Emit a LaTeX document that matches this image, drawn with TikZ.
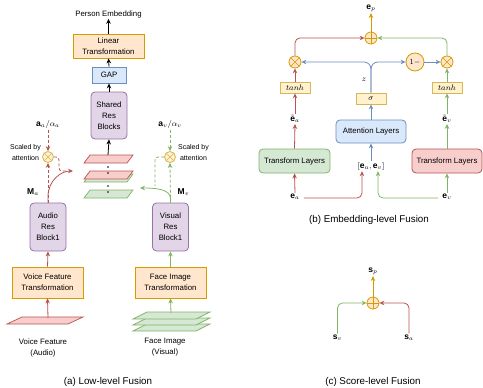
\documentclass[tikz,border=0pt]{standalone}
\usepackage{fontspec}
\setmainfont{Liberation Sans}
\usetikzlibrary{arrows.meta}

\definecolor{orF}{HTML}{FFE6CC}\definecolor{orD}{HTML}{D79B00}
\definecolor{bluF}{HTML}{DAE8FC}\definecolor{bluD}{HTML}{6C8EBF}
\definecolor{purF}{HTML}{E1D5E7}\definecolor{purD}{HTML}{9673A6}
\definecolor{grnF}{HTML}{D5E8D4}\definecolor{grnD}{HTML}{82B366}
\definecolor{redF}{HTML}{F8CECC}\definecolor{redD}{HTML}{B85450}
\definecolor{ylwF}{HTML}{FFF2CC}\definecolor{ylwD}{HTML}{D6B656}

% a flat feature map drawn as a parallelogram: x, y (bottom-left), width, height, skew, style
\newcommand\featplane[6]{\draw[#6] (#1,#2) -- ++(#3,0) -- ++(#5,-#4) -- ++(-#3,0) -- cycle;}

\tikzset{
  txt/.style={font=\fontsize{7.8}{11}\selectfont},
  box/.style={draw, line width=0.8pt, align=center, inner sep=0pt, txt},
  rbox/.style={box, rounded corners=4pt},
  orbox/.style={box, fill=orF, draw=orD},
  blubox/.style={fill=bluF, draw=bluD},
  purbox/.style={rbox, fill=purF, draw=purD},
  ylwbox/.style={box, fill=ylwF, draw=ylwD},
  lbl/.style={inner sep=1pt, txt},
  mlbl/.style={inner sep=1pt, font=\fontsize{8.5}{10}\selectfont},
  captext/.style={inner sep=0pt, font=\fontsize{9.8}{12}\selectfont},
  arr/.style={-{Stealth[length=5pt,width=4.5pt]}, line width=0.8pt},
  dsh/.style={dash pattern=on 3pt off 2pt},
  opcirc/.style={circle, draw, line width=0.8pt, inner sep=0pt, minimum size=12pt},
}

\begin{document}
\begin{tikzpicture}[x=1pt, y=-1pt]
\useasboundingbox (0,0) rectangle (483,388);

% ---------------- (a) low-level fusion ----------------
\node[lbl] (pe) at (108.5,14) {Person Embedding};
\node[orbox, minimum width=71pt, minimum height=24pt] (lin) at (108.5,46) {Linear\\Transformation};
\node[box, blubox, minimum width=34pt, minimum height=16pt] (gap) at (109,75) {GAP};
\node[purbox, minimum width=36pt, minimum height=47pt] (srb) at (109,115.5) {Shared\\Res\\Blocks};

% stacked feature maps
\featplane{84}{163}{43}{8}{6}{fill=redF, draw=redD, line width=0.7pt}
\featplane{84}{182}{43}{8}{6}{fill=grnF, draw=grnD, line width=0.7pt}
\featplane{84}{179}{43}{8}{6}{fill=redF, draw=redD, line width=0.7pt}
\featplane{84}{198}{43}{8}{6}{fill=grnF, draw=grnD, line width=0.7pt}
\foreach \yy in {167,173,186,192} \fill (108,\yy) circle (0.9pt);
\coordinate (stk) at (108,155);
\coordinate (stka) at (73,171);
\coordinate (stkv) at (140,188);

\draw[arr] (stk) -- (srb.south);
\draw[arr] (srb.north) -- (gap.south);
\draw[arr] (gap.north) -- (lin.south);
\draw[arr] (lin.north) -- (pe.south);

% audio branch
\node[purbox, minimum width=36pt, minimum height=48pt] (arb) at (48,227) {Audio\\Res\\Block1};
\node[orbox, minimum width=71pt, minimum height=31pt] (vft) at (47.5,282.5) {Voice Feature\\Transformation};
\featplane{7}{324}{61}{7}{15}{fill=redF, draw=redD, line width=0.7pt}
\coordinate (vpl) at (48,318);
\node[lbl, align=center] (vin) at (43,347.5) {Voice Feature\\(Audio)};
\draw[arr, redD] (vpl) -- (vft.south);
\draw[arr, redD] (vft.north) -- (arb.south);

% visual branch
\node[purbox, minimum width=36pt, minimum height=48pt] (vrb) at (170.5,227) {Visual\\Res\\Block1};
\node[orbox, minimum width=71pt, minimum height=31pt] (fit) at (170.5,282.5) {Face Image\\Transformation};
\featplane{133}{331}{63}{7}{14}{fill=grnF, draw=grnD, line width=0.7pt}
\featplane{133}{325}{63}{7}{14}{fill=grnF, draw=grnD, line width=0.7pt}
\featplane{133}{319}{63}{7}{14}{fill=grnF, draw=grnD, line width=0.7pt}
\coordinate (fpl) at (171,313);
\node[lbl, align=center] (fin) at (165,347.5) {Face Image\\(Visual)};
\draw[arr, grnD] (fpl) -- (fit.south);
\draw[arr, grnD] (fit.north) -- (vrb.south);

% attention scaling, audio side
\node[mlbl] (aa) at (48,124.5) {$\mathbf{a}_a/\alpha_a$};
\node[opcirc, fill=ylwF, draw=ylwD, minimum size=11pt] (cxa) at (48,157) {};
\draw[ylwD, line width=0.7pt] (cxa.45) -- (cxa.225) (cxa.135) -- (cxa.315);
\node[lbl, align=center, font=\fontsize{7}{11}\selectfont] (sca) at (25.5,152.5) {Scaled by\\attention};
\node[mlbl] (ma) at (33,192) {$\mathbf{M}_a$};
\draw[arr, redD, dsh] (aa.south) -- (cxa.north);
\draw[arr, redD, dsh] (arb.north) -- (cxa.south);
\draw[redD, dsh, line width=0.8pt, rounded corners=3pt] (cxa.east) -- (59,157) -- (59,171) -- (66,171);
\draw[arr, redD] (arb.north) -- ++(0,-6) .. controls +(0,-16) and +(-12,0) .. (stka);

% attention scaling, visual side
\node[mlbl] (av) at (170,124.5) {$\mathbf{a}_v/\alpha_v$};
\node[opcirc, fill=ylwF, draw=ylwD, minimum size=11pt] (cxv) at (170,157) {};
\draw[ylwD, line width=0.7pt] (cxv.45) -- (cxv.225) (cxv.135) -- (cxv.315);
\node[lbl, align=center, font=\fontsize{7}{11}\selectfont] (scv) at (193.5,152.5) {Scaled by\\attention};
\node[mlbl] (mv) at (183.5,192) {$\mathbf{M}_v$};
\draw[arr, grnD, dsh] (av.south) -- (cxv.north);
\draw[arr, grnD, dsh] (vrb.north) -- (cxv.south);
\draw[grnD, dsh, line width=0.8pt, rounded corners=3pt] (cxv.west) -- (155,157) -- (155,186);
\draw[arr, grnD] (vrb.north) -- ++(0,-4) .. controls +(0,-10) and +(14,0) .. (stkv);

\node[captext] (capa) at (108,382) {(a) Low-level Fusion};

% ---------------- (b) embedding-level fusion ----------------
\node[mlbl] (ep) at (371,8.5) {$\mathbf{e}_p$};
\node[opcirc, fill=orF, draw=orD] (ob) at (371,38) {};
\draw[orD, line width=0.8pt] (ob.north) -- (ob.south) (ob.west) -- (ob.east);
\draw[arr, orD] (ob.north) -- (ep.south);

\node[opcirc, fill=orF, draw=orD] (cxl) at (295,62) {};
\draw[orD, line width=0.7pt] (cxl.45) -- (cxl.225) (cxl.135) -- (cxl.315);
\node[opcirc, fill=orF, draw=orD] (cxr) at (447,62) {};
\draw[orD, line width=0.7pt] (cxr.45) -- (cxr.225) (cxr.135) -- (cxr.315);
\node[opcirc, fill=orF, draw=orD, minimum size=18pt, font=\fontsize{8}{10}\selectfont] (om) at (415,62) {$1-$};

\draw[arr, redD, rounded corners=5pt] (cxl.north) |- (ob.west);
\draw[arr, grnD, rounded corners=5pt] (cxr.north) |- (ob.east);

\node[ylwbox, minimum width=30pt, minimum height=11pt] (sig) at (371,98.5) {$\sigma$};
\node[mlbl] (z) at (364,80) {$z$};
\draw[arr, bluD, rounded corners=7pt] (sig.north) |- (cxl.east);
\draw[arr, bluD, rounded corners=7pt] (sig.north) |- (om.west);
\draw[arr, bluD] (om.east) -- (cxr.west);

\node[ylwbox, minimum width=30pt, minimum height=11pt] (tl) at (295,87.5) {$tanh$};
\node[ylwbox, minimum width=30pt, minimum height=11pt] (tr) at (447,87.5) {$tanh$};
\draw[arr, redD] (tl.north) -- (cxl.south);
\draw[arr, grnD] (tr.north) -- (cxr.south);

\node[mlbl] (eta) at (295,119) {$\tilde{\mathbf{e}}_a$};
\node[mlbl] (etv) at (447,119) {$\tilde{\mathbf{e}}_v$};
\draw[arr, redD] (eta.north) -- (tl.south);
\draw[arr, grnD] (etv.north) -- (tr.south);

\node[box, rbox, blubox, minimum width=70pt, minimum height=23pt] (att) at (371,131.5) {Attention Layers};
\draw[arr, bluD] (att.north) -- (sig.south);

\node[box, rbox, fill=grnF, draw=grnD, minimum width=71pt, minimum height=24pt] (tlay) at (294.5,161) {Transform Layers};
\node[box, rbox, fill=redF, draw=redD, minimum width=70pt, minimum height=24pt] (tray) at (447,161) {Transform Layers};
\draw[arr, redD] (tlay.north) -- (eta.south);
\draw[arr, grnD] (tray.north) -- (etv.south);

\node[mlbl] (eav) at (371,166) {$[\mathbf{e}_a, \mathbf{e}_v]$};
\draw[arr, bluD] (eav.north) -- (att.south);

\node[mlbl] (ea) at (295,197) {$\mathbf{e}_a$};
\node[mlbl] (ev) at (447,197) {$\mathbf{e}_v$};
\draw[arr, redD] (ea.north) -- (tlay.south);
\draw[arr, grnD] (ev.north) -- (tray.south);
\draw[arr, redD, rounded corners=5pt] ([xshift=3pt,yshift=-1pt]ea.east) -| ([xshift=-9pt]eav.south);
\draw[arr, grnD, rounded corners=5pt] ([xshift=-3pt,yshift=-1pt]ev.west) -| ([xshift=7pt]eav.south);

\node[captext] (capb) at (369,220) {(b) Embedding-level Fusion};

% ---------------- (c) score-level fusion ----------------
\node[mlbl] (sp) at (373,271.5) {$\mathbf{s}_p$};
\node[opcirc, fill=orF, draw=orD] (oc) at (373,303) {};
\draw[orD, line width=0.8pt] (oc.north) -- (oc.south) (oc.west) -- (oc.east);
\draw[arr, orD] (oc.north) -- (sp.south);

\node[mlbl] (sv) at (337.5,337.5) {$\mathbf{s}_v$};
\node[mlbl] (sa) at (409,337.5) {$\mathbf{s}_a$};
\draw[arr, grnD, rounded corners=5pt] (sv.north) |- (oc.west);
\draw[arr, redD, rounded corners=5pt] (sa.north) |- (oc.east);

\node[captext] (capc) at (373,382) {(c) Score-level Fusion};
\end{tikzpicture}
\end{document}
